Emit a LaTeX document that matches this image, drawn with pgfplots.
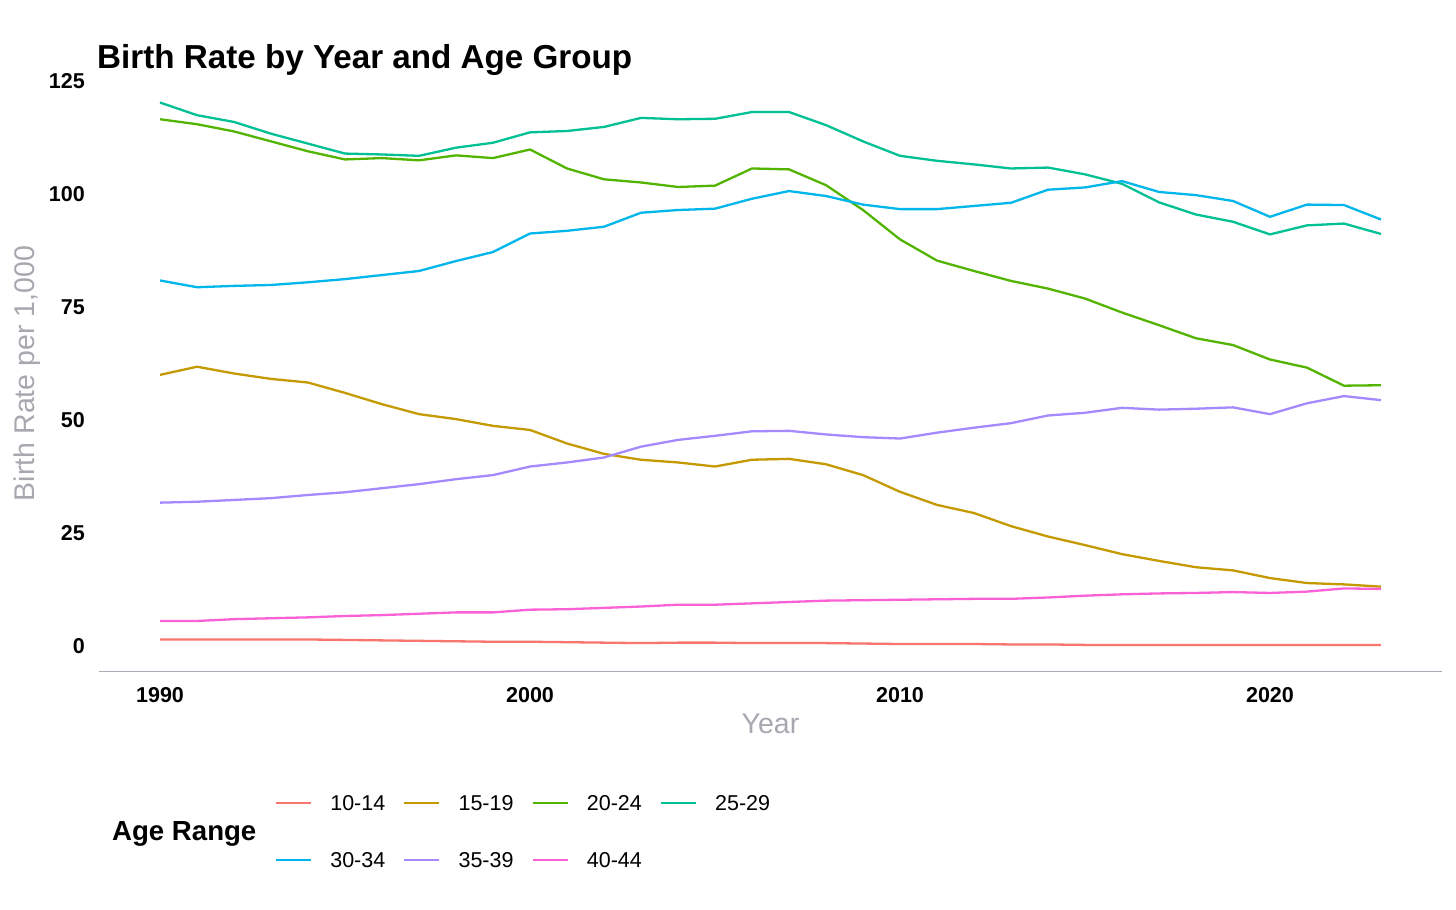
\documentclass[border=0pt]{standalone}
\usepackage{pgfplots}
\usepackage{pgfplotstable}
\usepackage{fontspec}
\setmainfont{Liberation Sans}
\pgfplotsset{compat=1.18}

\definecolor{c1014}{HTML}{F8766D}
\definecolor{c1519}{HTML}{C49A00}
\definecolor{c2024}{HTML}{53B400}
\definecolor{c2529}{HTML}{00C094}
\definecolor{c3034}{HTML}{00B6EB}
\definecolor{c3539}{HTML}{A58AFF}
\definecolor{c4044}{HTML}{FB61D7}
\definecolor{axisgray}{RGB}{170,170,182}
\definecolor{labgray}{RGB}{168,168,176}

\newcommand\fs[1]{\fontsize{#1}{#1}\selectfont}

% birth rate per 1,000 women by age group
\pgfplotstableread{
year a1014 a1519 a2024 a2529 a3034 a3539 a4044
1990 1.4 60.0 116.6 120.3 80.9 31.7 5.5
1991 1.4 61.8 115.5 117.5 79.4 31.9 5.5
1992 1.4 60.3 113.9 116.0 79.7 32.3 5.9
1993 1.4 59.1 111.7 113.4 79.9 32.7 6.1
1994 1.4 58.3 109.5 111.2 80.5 33.4 6.3
1995 1.3 56.0 107.7 109.0 81.2 34.0 6.6
1996 1.2 53.5 108.0 108.8 82.1 34.9 6.8
1997 1.1 51.3 107.5 108.5 83.0 35.8 7.1
1998 1.0 50.2 108.6 110.3 85.2 36.9 7.4
1999 0.9 48.7 108.0 111.4 87.2 37.8 7.4
2000 0.9 47.8 109.9 113.7 91.3 39.7 8.0
2001 0.8 44.8 105.7 114.0 91.9 40.6 8.1
2002 0.7 42.5 103.3 114.9 92.8 41.7 8.4
2003 0.6 41.2 102.6 116.9 95.9 44.1 8.7
2004 0.7 40.6 101.6 116.6 96.5 45.6 9.1
2005 0.7 39.7 101.9 116.7 96.8 46.5 9.1
2006 0.6 41.2 105.7 118.2 99.0 47.5 9.4
2007 0.6 41.4 105.5 118.2 100.7 47.6 9.7
2008 0.6 40.2 102.0 115.3 99.6 46.8 10.0
2009 0.5 37.8 96.5 111.7 97.7 46.2 10.1
2010 0.4 34.1 90.0 108.5 96.7 45.9 10.2
2011 0.4 31.2 85.3 107.4 96.7 47.2 10.3
2012 0.4 29.4 83.0 106.6 97.4 48.3 10.4
2013 0.3 26.5 80.8 105.7 98.1 49.3 10.4
2014 0.3 24.2 79.1 105.9 101.0 51.0 10.7
2015 0.2 22.3 76.9 104.4 101.5 51.6 11.1
2016 0.2 20.3 73.8 102.3 102.9 52.7 11.4
2017 0.2 18.8 71.0 98.2 100.5 52.3 11.6
2018 0.2 17.4 68.1 95.5 99.8 52.5 11.7
2019 0.2 16.7 66.6 93.9 98.5 52.8 11.9
2020 0.2 15.0 63.4 91.1 95.0 51.3 11.7
2021 0.2 13.9 61.6 93.1 97.7 53.7 12.0
2022 0.2 13.6 57.6 93.5 97.6 55.3 12.7
2023 0.2 13.1 57.7 91.2 94.4 54.4 12.6
}\births

\begin{document}
\begin{tikzpicture}
\fill[white] (0,0) rectangle (1456pt,910pt);
\useasboundingbox (0,0) rectangle (1456pt,910pt);
\begin{axis}[
    at={(99pt,238pt)}, anchor=south west,
    scale only axis,
    width=1343pt, height=597pt,
    xmin=1988.35, xmax=2024.65,
    ymin=-5.8, ymax=126.4,
    xtick={1990,2000,2010,2020},
    ytick={0,25,50,75,100,125},
    axis line style={draw=none},
    major tick length=0pt,
    /pgf/number format/assume math mode=true,
    /pgf/number format/1000 sep={},
    xticklabel style={font=\fs{21.5pt}\bfseries, anchor=north, inner sep=0pt, yshift=-15pt},
    yticklabel style={font=\fs{21.5pt}\bfseries, anchor=east, inner sep=0pt, xshift=-14pt},
    title={Birth Rate by Year and Age Group},
    title style={font=\fs{33.2pt}\bfseries, at={(axis description cs:0,1)}, anchor=base west, inner sep=0pt, yshift=0.5pt, xshift=-2pt},
    xlabel={Year},
    xlabel style={font=\fs{28.5pt}, color=labgray, at={(axis description cs:0.5,-0.1022)}, anchor=base},
    ylabel={Birth Rate per 1,000},
    ylabel style={font=\fs{28.5pt}, color=labgray, at={(axis description cs:-0.0535,0.5)}, anchor=center},
    legend columns=4,
    legend cell align=left,
    legend image code/.code={\draw[line width=2.3pt] (0pt,0pt) -- (35pt,0pt);},
    legend style={at={(0.13105,-0.2065)}, anchor=north west, draw=none, fill=none,
        inner sep=0pt, outer sep=0pt, column sep=18pt, row sep=41.6pt,
        nodes={inner sep=0pt, text height=15.4pt, text depth=0pt, font=\fs{21.5pt}}},
    every axis plot/.append style={line width=2.3pt},
]
\draw[axisgray, line width=2pt] (rel axis cs:0,0) -- (rel axis cs:1,0);
\addplot[c1014] table[x=year, y=a1014] {\births};
\addplot[c1519] table[x=year, y=a1519] {\births};
\addplot[c2024] table[x=year, y=a2024] {\births};
\addplot[c2529] table[x=year, y=a2529] {\births};
\addplot[c3034] table[x=year, y=a3034] {\births};
\addplot[c3539] table[x=year, y=a3539] {\births};
\addplot[c4044] table[x=year, y=a4044] {\births};
\legend{10-14,15-19,20-24,25-29,30-34,35-39,40-44}
\end{axis}
\node[anchor=base west, inner sep=0pt, font=\fs{27.6pt}\bfseries] at (112pt,69pt) {Age Range};
\end{tikzpicture}
\end{document}
